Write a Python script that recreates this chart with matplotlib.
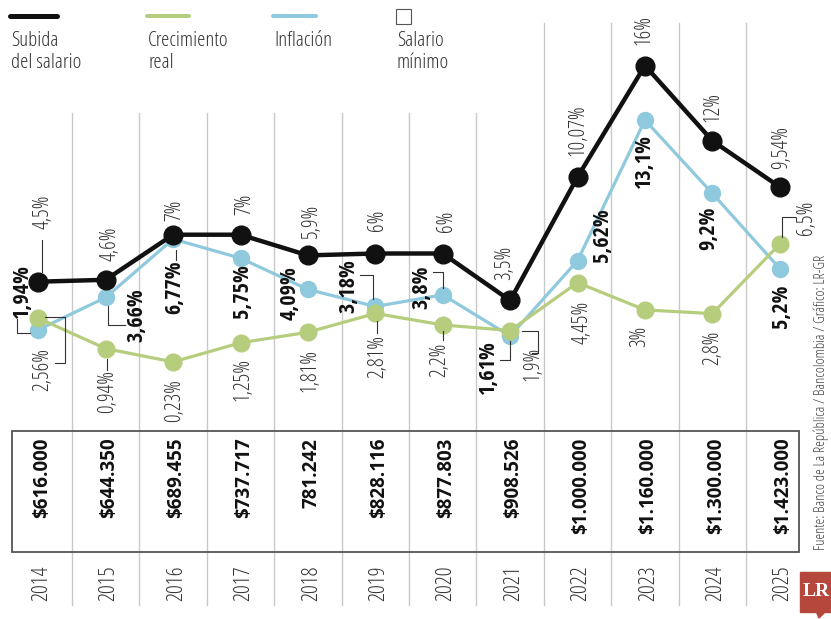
import matplotlib
matplotlib.use('Agg')
import matplotlib.pyplot as plt
from matplotlib.patches import Rectangle, Polygon
from matplotlib.transforms import IdentityTransform

# data
years = [2014, 2015, 2016, 2017, 2018, 2019, 2020, 2021, 2022, 2023, 2024, 2025]
subida = [4.5, 4.6, 7, 7, 5.9, 6, 6, 3.5, 10.07, 16, 12, 9.54]
inflacion = [1.94, 3.66, 6.77, 5.75, 4.09, 3.18, 3.8, 1.61, 5.62, 13.1, 9.2, 5.2]
crecimiento = [2.56, 0.94, 0.23, 1.25, 1.81, 2.81, 2.2, 1.9, 4.45, 3, 2.8, 6.5]
salario = ['$616.000', '$644.350', '$689.455', '$737.717', '781.242', '$828.116',
           '$877.803', '$908.526', '$1.000.000', '$1.160.000', '$1.300.000', '$1.423.000']

# label offsets from each point, image pixels (x right, y down)
off_subida = [(5, -70), (4, -36), (2, -24), (4, -30), (4, -35), (2, -33),
              (4, -32), (-5, -38), (0, -47), (-1, -36), (1, -34), (2, -39)]
off_inflacion = [(-16, -39), (31, 18), (2, 48), (2, 33), (-18, 4), (-27, -20),
                 (-21, -8), (-22, 31), (25, -25), (-1, 41), (-4, 35), (2, 38)]
off_crec = [(4, 51), (2, 43), (2, 39), (2, 37), (2, 38), (2, 43),
            (-3, 35), (23, 33), (5, 40), (-5, 26), (0, 34), (27, -26)]

# leader lines: (series, index, offsets)
leaders = [
    ('s', 0, [(4, -42), (4, -10)]),
    ('i', 0, [(-21, -11), (-21, 3), (-8, 3)]),
    ('c', 0, [(7, -1), (27, -1), (27, 45), (17, 45)]),
    ('i', 1, [(2, 9), (2, 28), (19, 28)]),
    ('c', 1, [(1, 10), (1, 21)]),
    ('i', 2, [(3, 11), (3, 21)]),
    ('i', 5, [(-15, -31), (-2, -31), (-2, -7)]),
    ('c', 5, [(2, 8), (2, 20)]),
    ('i', 6, [(-10, -23), (0, -23), (0, -7)]),
    ('c', 6, [(0, 6), (0, 15)]),
    ('i', 7, [(0, 5), (0, 24), (-10, 24)]),
    ('c', 7, [(12, 0), (28, 0), (28, 22), (22, 22)]),
    ('c', 11, [(2, -7), (2, -27), (15, -27)]),
]

BLACK = '#111111'
GREEN = '#b6cd7e'
BLUE = '#8fc9dd'
TEXT = '#333333'
COND = dict(family=['Open Sans', 'DejaVu Sans'], fontstretch='condensed')
COND_BOLD = dict(family=['Open Sans Condensed', 'Open Sans', 'DejaVu Sans'],
                 fontstretch='condensed', fontweight='bold')

W, H = 831, 619


def fmt(v):
    return f"{v:g}".replace('.', ',') + '%'


def fx(px):
    return px / W


def fy(py):
    return 1 - py / H


fig = plt.figure(figsize=(W / 100, H / 100), dpi=100)
ax = fig.add_axes([0, 0, 1, 1])
ax.set_xlim(-0.568, 11.76)
ax.set_ylim(-13.45, 19.49)
ax.axis('off')

xs = list(range(len(years)))

# grid lines between columns
for k in range(len(years) - 1):
    top = 13.48 if k < 7 else 18.27
    ax.plot([k + 0.5, k + 0.5], [top, -12.71], color='#c9c9c9', lw=1, zorder=0)

# table box
ax.add_patch(Rectangle((-0.395, -9.867), 11.681, 6.44, fill=False,
                       edgecolor='#555555', lw=1.3, zorder=1))

ax.plot(xs, inflacion, color=BLUE, lw=2.3, marker='o', ms=11.5, zorder=2)
ax.plot(xs, crecimiento, color=GREEN, lw=2.3, marker='o', ms=12, zorder=3)
ax.plot(xs, subida, color=BLACK, lw=3.2, marker='o', ms=13.5, zorder=4)

series = {'s': subida, 'i': inflacion, 'c': crecimiento}

for vals, offs, bold in [(subida, off_subida, False),
                         (inflacion, off_inflacion, True),
                         (crecimiento, off_crec, False)]:
    for i, v in enumerate(vals):
        dx, dy = offs[i]
        style = dict(fontsize=16, color='#111111', **COND_BOLD) if bold else \
            dict(fontsize=15.5, color=TEXT, fontweight='light', **COND)
        ax.annotate(fmt(v), xy=(i, v), xytext=(dx, -dy), textcoords='offset pixels',
                    rotation=90, rotation_mode='anchor', ha='center', va='center',
                    zorder=6, **style)

for key, i, pts in leaders:
    px, py = ax.transData.transform((i, series[key][i]))
    lx = [px + p[0] for p in pts]
    ly = [py - p[1] for p in pts]
    ax.plot(lx, ly, color='#333333', lw=0.8, transform=IdentityTransform(), zorder=5)

# minimum wage values and years
for i in xs:
    ax.text(i + 0.05, -3.80, salario[i], rotation=90, rotation_mode='anchor',
            ha='right', va='center', fontsize=13.5, fontweight='bold',
            family=['Open Sans', 'DejaVu Sans'], color='#111111')
    ax.text(i + 0.05, -10.58, str(years[i]), rotation=90, rotation_mode='anchor',
            ha='right', va='center', fontsize=16, fontweight='light', color='#333333', **COND)

# legend
legend = [(BLACK, 10, 57, 5, 'Subida\ndel salario'),
          (GREEN, 147, 189, 4, 'Crecimiento\nreal'),
          (BLUE, 273, 316, 4, 'Inflación')]
for col, x0, x1, lw, lab in legend:
    fig.add_artist(plt.Line2D([fx(x0), fx(x1)], [fy(16), fy(16)], color=col,
                              lw=lw * 0.72, solid_capstyle='round'))
    fig.text(fx(x0 + 1), fy(31), lab, ha='left', va='top', fontsize=15,
             fontweight='light', color=TEXT, linespacing=1.15, **COND)
fig.add_artist(Rectangle((fx(396), fy(24)), 15 / W, 15 / H, fill=False,
                         edgecolor='#555555', lw=0.8, transform=fig.transFigure))
fig.text(fx(397), fy(31), 'Salario\nmínimo', ha='left', va='top', fontsize=15,
         fontweight='light', color=TEXT, linespacing=1.15, **COND)

# source and logo
fig.text(fx(821), fy(550), 'Fuente: Banco de La República / Bancolombia / Gráfico: LR-GR',
         rotation=90, rotation_mode='anchor', ha='left', va='center', fontsize=10.5,
         fontweight='light', color='#444444', **COND)
fig.add_artist(Rectangle((fx(800), fy(612)), 40 / W, 40 / H, color='#b5473d',
                         transform=fig.transFigure))
fig.add_artist(Polygon([(fx(816), fy(611)), (fx(826), fy(611)), (fx(819), fy(618))],
                       closed=True, color='#b5473d', transform=fig.transFigure))
fig.text(fx(803), fy(592), 'LR', ha='left', va='center', fontsize=14, fontweight='bold',
         family=['Liberation Serif', 'DejaVu Serif'], color='white')

fig.savefig('out.png', dpi=100, facecolor='white')
